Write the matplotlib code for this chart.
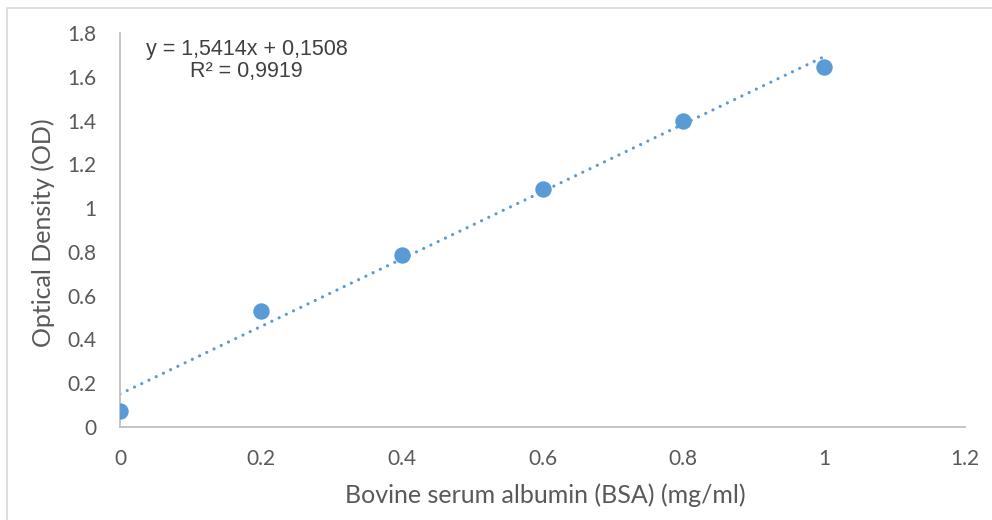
import matplotlib.pyplot as plt
from matplotlib.patches import Rectangle
import numpy as np

# standard curve data
bsa = [0.0, 0.2, 0.4, 0.6, 0.8, 1.0]
od = [0.075, 0.53, 0.785, 1.087, 1.40, 1.645]
slope = 1.5414
intercept = 0.1508
x_ticks = [0, 0.2, 0.4, 0.6, 0.8, 1, 1.2]
x_labels = ['0', '0.2', '0.4', '0.6', '0.8', '1', '1.2']
y_ticks = [0, 0.2, 0.4, 0.6, 0.8, 1, 1.2, 1.4, 1.6, 1.8]
y_labels = ['0', '0.2', '0.4', '0.6', '0.8', '1', '1.2', '1.4', '1.6', '1.8']

blue = '#5B9BD5'
grey = '#595959'

fig = plt.figure(figsize=(9.92, 5.2), dpi=100)
fig.patches.append(Rectangle((7/992, -0.1), 1.2, 1 - 8/520 + 0.1, transform=fig.transFigure,
                             fill=False, edgecolor='#d9d9d9', linewidth=1.2))
ax = fig.add_axes([120/992, 1 - 427/520, 845/992, 394/520])

xs = np.array([bsa[0], bsa[-1]])
ax.plot(xs, slope * xs + intercept, linestyle=(0, (0.01, 2.5)), linewidth=2.3,
        color=blue, dash_capstyle='round', zorder=2)
ax.scatter(bsa, od, s=140, color=blue, zorder=3, linewidths=0)

ax.set_xlim(0, 1.2)
ax.set_ylim(0, 1.8)
ax.set_xticks(x_ticks)
ax.set_xticklabels(x_labels)
ax.set_yticks(y_ticks)
ax.set_yticklabels(y_labels)
ax.tick_params(length=0, labelsize=15, labelcolor=grey)
ax.tick_params(axis='x', pad=16)
ax.tick_params(axis='y', pad=17)
for lab in ax.get_xticklabels() + ax.get_yticklabels():
    lab.set_family('Lato')

for s in ['top', 'right']:
    ax.spines[s].set_visible(False)
for s in ['left', 'bottom']:
    ax.spines[s].set_color('#bfbfbf')
    ax.spines[s].set_linewidth(1.3)

ax.set_xlabel('Bovine serum albumin (BSA) (mg/ml)', fontsize=18, color=grey, family='Lato')
ax.set_ylabel('Optical Density (OD)', fontsize=18, color=grey, family='Lato')
ax.xaxis.set_label_coords(545/992, 1 - 495/520, transform=fig.transFigure)
ax.yaxis.set_label_coords(43/992, 1 - 233/520, transform=fig.transFigure)
ax.xaxis.label.set_va('center')
ax.yaxis.label.set_va('center')

fig.text(247/992, 1 - 50/520, 'y = 1,5414x + 0,1508', ha='center', va='center',
         fontsize=15.5, color='#404040', family='Liberation Sans')
fig.text(246/992, 1 - 72/520, 'R² = 0,9919', ha='center', va='center',
         fontsize=15.5, color='#404040', family='Liberation Sans')

fig.savefig('out.png', dpi=100)
